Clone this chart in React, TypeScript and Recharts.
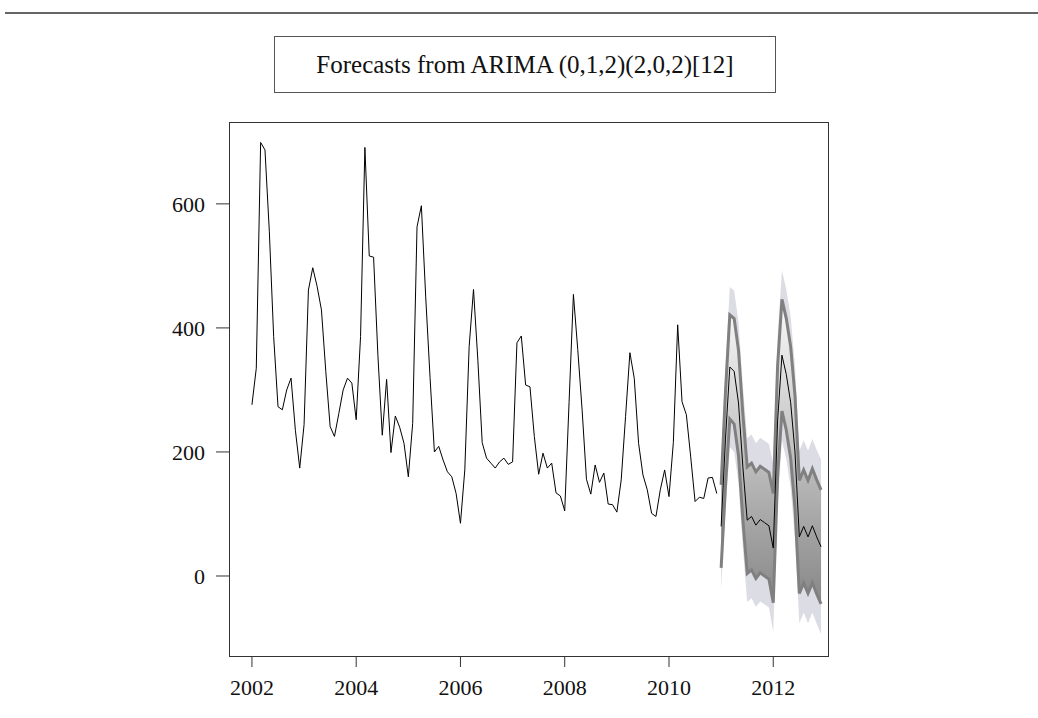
import React from "react";
import {
  ComposedChart,
  Line,
  Area,
  XAxis,
  YAxis,
} from "recharts";

// monthly observations, Jan 2002 .. Dec 2010
const observed = [
  276, 335, 699, 687, 556, 386, 273, 268, 300, 319, 235, 174,
  244, 461, 497, 467, 429, 330, 241, 225, 262, 300, 319, 311,
  252, 386, 691, 516, 514, 355, 227, 317, 199, 258, 240, 214,
  160, 246, 563, 597, 450, 320, 200, 209, 187, 168, 160, 133,
  85, 171, 370, 462, 348, 215, 190, 182, 174, 184, 190, 180,
  184, 376, 387, 308, 305, 225, 164, 198, 174, 182, 134, 129,
  105, 280, 454, 365, 268, 156, 132, 179, 151, 166, 116, 115,
  103, 155, 257, 360, 319, 214, 163, 139, 101, 96, 139, 171,
  128, 215, 405, 281, 260, 192, 120, 127, 125, 158, 159, 133,
];

// forecast, Jan 2011 .. Dec 2012
const fcMean = [
  80, 221, 337, 330, 279, 176, 90, 96, 82, 91, 86, 81,
  45, 250, 356, 325, 280, 200, 63, 80, 63, 81, 63, 47,
];
const fcHi80 = [
  147, 297, 421, 415, 364, 261, 176, 182, 168, 177, 172, 167,
  133, 339, 446, 415, 370, 291, 154, 171, 154, 173, 155, 139,
];
const fcLo80 = [
  13, 145, 253, 245, 194, 91, 4, 10, -4, 5, 0, -5,
  -43, 161, 266, 235, 190, 109, -28, -11, -28, -11, -29, -45,
];
const fcHi95 = [
  182, 337, 466, 460, 409, 307, 222, 228, 214, 223, 218, 213,
  180, 386, 493, 462, 418, 338, 202, 219, 202, 221, 203, 188,
];
const fcLo95 = [
  -22, 105, 208, 200, 149, 45, -42, -36, -50, -41, -46, -51,
  -90, 114, 219, 188, 142, 62, -76, -59, -76, -59, -77, -94,
];

const startYear = 2002;
const forecastStart = 2011;
const xTicks = [2002, 2004, 2006, 2008, 2010, 2012];
const yTicks = [0, 200, 400, 600];
const title = "Forecasts from ARIMA (0,1,2)(2,0,2)[12]";

const rows = [
  ...observed.map((v, i) => ({ t: startYear + i / 12, obs: v })),
  ...fcMean.map((v, j) => ({
    t: forecastStart + j / 12,
    mean: v,
    hi80: fcHi80[j],
    lo80: fcLo80[j],
    band80: [fcLo80[j], fcHi80[j]],
    band95: [fcLo95[j], fcHi95[j]],
  })),
];

const FONT = "'Liberation Serif', 'Times New Roman', serif";

export default function App() {
  return (
    <div
      style={{
        position: "absolute",
        left: 0,
        top: 0,
        width: 1038,
        height: 718,
        background: "#fff",
        fontFamily: FONT,
      }}
    >
      <div
        style={{
          position: "absolute",
          left: 5,
          right: 0,
          top: 12,
          height: 0,
          borderTop: "2px solid #666",
        }}
      />
      <div
        style={{
          position: "absolute",
          left: 274,
          top: 36,
          width: 500,
          height: 55,
          border: "1px solid #555",
          display: "flex",
          alignItems: "center",
          justifyContent: "center",
          fontSize: 25,
          color: "#111",
        }}
      >
        {title}
      </div>

      <div style={{ position: "absolute", left: 0, top: 0 }}>
        <ComposedChart
          width={1038}
          height={718}
          data={rows}
          margin={{ left: 169, right: 210, top: 122, bottom: 22 }}
        >
          <defs>
            <linearGradient id="g80" x1="0" y1="0" x2="0" y2="1">
              <stop offset="0%" stopColor="#fbfbfb" />
              <stop offset="100%" stopColor="#878787" />
            </linearGradient>
          </defs>
          <XAxis
            dataKey="t"
            type="number"
            domain={[2001.56, 2013.05]}
            ticks={xTicks}
            allowDataOverflow
            height={40}
            axisLine={false}
            tickSize={11}
            tickMargin={12}
            tickLine={{ stroke: "#333" }}
            tick={{ fill: "#111", fontSize: 22, fontFamily: FONT }}
          />
          <YAxis
            type="number"
            domain={[-129, 732]}
            ticks={yTicks}
            allowDataOverflow
            width={60}
            axisLine={false}
            tickSize={13}
            tickMargin={11}
            tickLine={{ stroke: "#333" }}
            tick={{ fill: "#111", fontSize: 22, fontFamily: FONT }}
          />
          <Area
            dataKey="band95"
            stroke="none"
            fill="#dcdce4"
            fillOpacity={1}
            isAnimationActive={false}
            activeDot={false}
          />
          <Area
            dataKey="band80"
            stroke="none"
            fill="url(#g80)"
            fillOpacity={1}
            isAnimationActive={false}
            activeDot={false}
          />
          <Line
            dataKey="hi80"
            stroke="#808080"
            strokeWidth={3}
            dot={false}
            activeDot={false}
            isAnimationActive={false}
          />
          <Line
            dataKey="lo80"
            stroke="#808080"
            strokeWidth={3}
            dot={false}
            activeDot={false}
            isAnimationActive={false}
          />
          <Line
            dataKey="mean"
            stroke="#000"
            strokeWidth={1}
            dot={false}
            activeDot={false}
            isAnimationActive={false}
          />
          <Line
            dataKey="obs"
            stroke="#000"
            strokeWidth={1}
            dot={false}
            activeDot={false}
            isAnimationActive={false}
          />
        </ComposedChart>
      </div>

      <div
        style={{
          position: "absolute",
          left: 229,
          top: 122,
          width: 598,
          height: 533,
          border: "1px solid #333",
          pointerEvents: "none",
        }}
      />
    </div>
  );
}
